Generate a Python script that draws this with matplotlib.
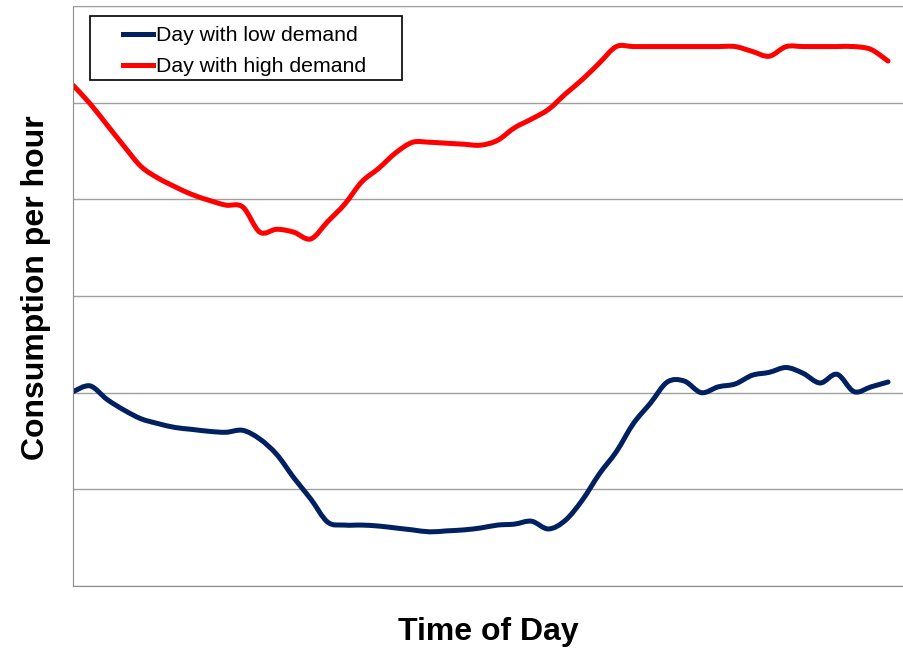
import matplotlib
matplotlib.use("Agg")
import matplotlib.pyplot as plt
from matplotlib.patches import Rectangle, PathPatch
from matplotlib.path import Path
from matplotlib.lines import Line2D

plt.rcParams['font.family'] = ['Liberation Sans', 'DejaVu Sans']

# half-hour steps through the day (0..48)
slots = list(range(49))

low_demand = [2.01, 2.07, 1.93, 1.82, 1.73, 1.68, 1.64, 1.62, 1.60, 1.59,
              1.61, 1.52, 1.36, 1.12, 0.90, 0.66, 0.63, 0.63, 0.62, 0.60,
              0.58, 0.56, 0.57, 0.58, 0.60, 0.63, 0.64, 0.67, 0.59, 0.68,
              0.89, 1.16, 1.39, 1.68, 1.89, 2.11, 2.12, 2.00, 2.06, 2.09,
              2.18, 2.21, 2.26, 2.20, 2.10, 2.19, 2.01, 2.06, 2.11]

high_demand = [5.18, 4.99, 4.77, 4.55, 4.34, 4.22, 4.13, 4.05, 3.99, 3.94,
               3.92, 3.66, 3.69, 3.66, 3.59, 3.77, 3.95, 4.18, 4.32, 4.48,
               4.59, 4.59, 4.58, 4.57, 4.56, 4.61, 4.74, 4.83, 4.93, 5.09,
               5.24, 5.41, 5.58, 5.58, 5.58, 5.58, 5.58, 5.58, 5.58, 5.58,
               5.53, 5.48, 5.58, 5.58, 5.58, 5.58, 5.58, 5.55, 5.43]

labels = ["Day with low demand", "Day with high demand"]
colors = ["#002060", "#ff0000"]


def smooth_path(xs, ys):
    # Catmull-Rom style bezier through the points (like the spreadsheet "smoothed line")
    pts = list(zip(xs, ys))
    verts = [pts[0]]
    codes = [Path.MOVETO]
    n = len(pts)
    for i in range(n - 1):
        p0 = pts[i - 1] if i > 0 else pts[i]
        p1 = pts[i]
        p2 = pts[i + 1]
        p3 = pts[i + 2] if i + 2 < n else pts[i + 1]
        c1 = (p1[0] + (p2[0] - p0[0]) / 6, p1[1] + (p2[1] - p0[1]) / 6)
        c2 = (p2[0] - (p3[0] - p1[0]) / 6, p2[1] - (p3[1] - p1[1]) / 6)
        verts += [c1, c2, p2]
        codes += [Path.CURVE4] * 3
    return Path(verts, codes)


fig = plt.figure(figsize=(9.04, 6.49), dpi=100)
ax = fig.add_axes([0.0808, 0.0971, 0.9192, 0.8937])

handles = []
for vals, col, lab in zip([low_demand, high_demand], colors, labels):
    ax.add_patch(PathPatch(smooth_path(slots, vals), fill=False, edgecolor=col,
                           lw=3.6, joinstyle="round", capstyle="round", zorder=2))
    handles.append(Line2D([], [], color=col, lw=3.6, label=lab))

ax.set_xlim(0, 48.94)
ax.set_ylim(0, 6)
ax.set_yticks(range(7))
ax.set_xticks([])
ax.grid(axis="y", color="#a0a0a0", lw=1.0)
ax.set_axisbelow(True)
ax.tick_params(left=False, labelleft=False, bottom=False)
for side in ["left", "bottom"]:
    ax.spines[side].set_color("#8c8c8c")
ax.spines["top"].set_color("#a0a0a0")
ax.spines["right"].set_visible(False)

ax.set_xlabel("Time of Day", fontsize=23, fontweight="bold", labelpad=22)
ax.set_ylabel("Consumption per hour", fontsize=23, fontweight="bold", labelpad=16)
ax.yaxis.label.set_y(0.514)

# legend box like the spreadsheet one
ax.add_patch(Rectangle((0.0205, 0.8724), 0.3755, 0.1103, transform=ax.transAxes,
                       facecolor="white", edgecolor="black", lw=1.2, zorder=3))
leg = ax.legend(handles=handles, loc="upper left", bbox_to_anchor=(0.0602, 0.965),
                frameon=False, fontsize=15.3, borderpad=0, borderaxespad=0,
                handlelength=1.4, handletextpad=0.15, labelspacing=0.55)
leg.set_zorder(4)

fig.savefig("out.png", dpi=100)
